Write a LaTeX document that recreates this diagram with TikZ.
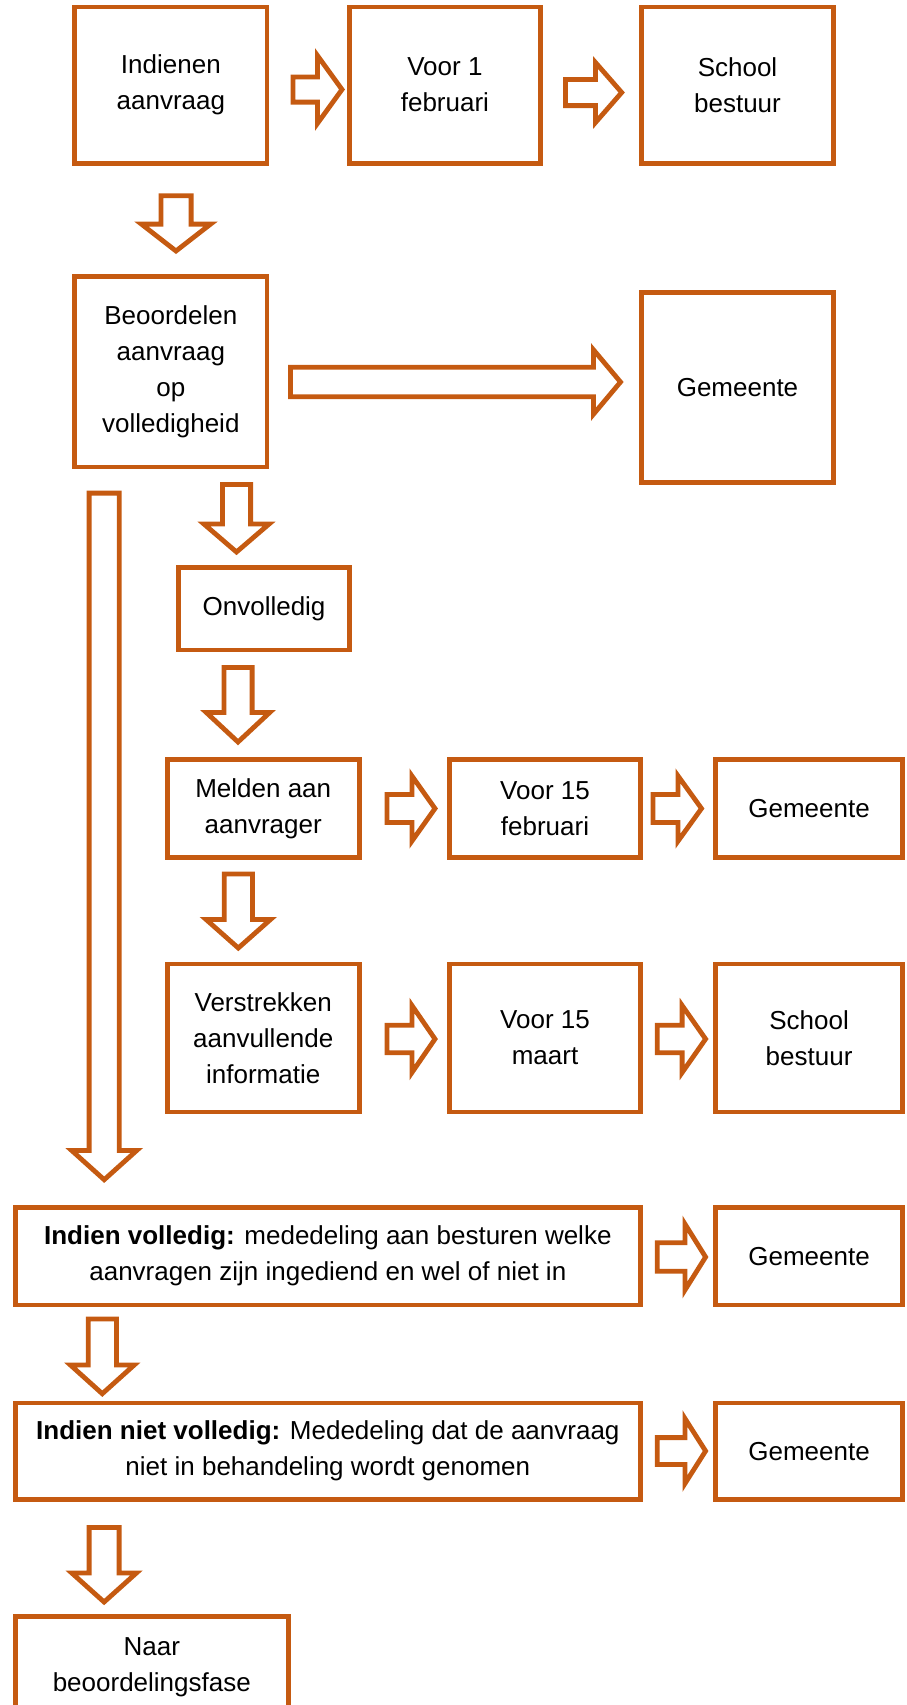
\documentclass[tikz,border=0pt]{standalone}
\usepackage{fontspec}
\setmainfont{Liberation Sans}
\definecolor{org}{HTML}{C55A11}
\tikzset{
  box/.style={draw=org, line width=4.8pt, fill=white, inner sep=0pt, align=center,
              font=\fontsize{26}{36}\selectfont},
  arr/.style={draw=org, line width=4.8pt, fill=white, line join=miter},
}
% right block arrow: tail x, centre y, head-base x, tip x, shaft half-width, head half-width
\newcommand\rarr[6]{\draw[arr] ({#1},{#2-#5}) -- ({#3},{#2-#5}) -- ({#3},{#2-#6}) -- ({#4},{#2}) -- ({#3},{#2+#6}) -- ({#3},{#2+#5}) -- ({#1},{#2+#5}) -- cycle;}
% down block arrow: centre x, top y, head-base y, tip y, shaft half-width, head half-width
\newcommand\darr[6]{\draw[arr] ({#1-#5},{#2}) -- ({#1+#5},{#2}) -- ({#1+#5},{#3}) -- ({#1+#6},{#3}) -- ({#1},{#4}) -- ({#1-#6},{#3}) -- ({#1-#5},{#3}) -- cycle;}
\begin{document}
\begin{tikzpicture}[x=1pt,y=-1pt]
\useasboundingbox (0,0) rectangle (907,1705);
\clip (0,0) rectangle (907,1705);
% row 1
\node[box, minimum width=192.3pt, minimum height=156.3pt] (A) at (170.85,85.15) {Indienen\\aanvraag};
\node[box, minimum width=190.8pt, minimum height=156.3pt] (B) at (444.9,85.15) {Voor 1\\februari};
\node[box, minimum width=192.2pt, minimum height=156.3pt] (C) at (737.5,85.15) {School\\bestuur};
% row 2
\node[box, minimum width=192.3pt, minimum height=190.6pt] (Beo) at (170.85,371.7) {Beoordelen\\aanvraag\\op\\volledigheid};
\node[box, minimum width=192.2pt, minimum height=190.2pt] (GemA) at (737.5,387.5) {Gemeente};
% onvolledig
\node[box, minimum width=170.5pt, minimum height=82.3pt] (Onv) at (264.05,608.85) {Onvolledig};
% melden row
\node[box, minimum width=191.7pt, minimum height=97.8pt] (Mel) at (263.25,808.6) {Melden aan\\aanvrager};
\node[box, minimum width=191.2pt, minimum height=97.8pt] (VF) at (545,808.6) {Voor 15\\februari};
\node[box, minimum width=186.9pt, minimum height=97.8pt] (GemB) at (809.05,808.6) {Gemeente};
% verstrekken row
\node[box, minimum width=191.7pt, minimum height=148pt] (Ver) at (263.25,1038) {Verstrekken\\aanvullende\\informatie};
\node[box, minimum width=191.2pt, minimum height=148pt] (VM) at (545,1038) {Voor 15\\maart};
\node[box, minimum width=186.9pt, minimum height=148pt] (SB) at (809.05,1038) {School\\bestuur};
% indien volledig
\node[box, minimum width=625.5pt, minimum height=97.6pt] (IV) at (327.85,1256.2) {\textbf{Indien volledig:} mededeling aan besturen welke\\aanvragen zijn ingediend en wel of niet in};
\node[box, minimum width=186.9pt, minimum height=97.6pt] (GemC) at (809.05,1256.2) {Gemeente};
% indien niet volledig
\node[box, minimum width=625.5pt, minimum height=96.3pt] (INV) at (327.85,1451.15) {\textbf{Indien niet volledig:} Mededeling dat de aanvraag\\niet in behandeling wordt genomen};
\node[box, minimum width=186.9pt, minimum height=96.3pt] (GemD) at (809.05,1451.15) {Gemeente};
% naar
\node[box, minimum width=273.4pt, minimum height=102pt] (Naar) at (151.8,1667.5) {Naar\\beoordelingsfase};
% right arrows
\rarr{293}{89.5}{317.4}{342}{12.6}{34}
\rarr{565.4}{92.5}{595.4}{621.7}{13.1}{30.1}
\rarr{290.4}{382}{593.4}{620.5}{14.75}{32.3}
\rarr{387}{808.5}{411.9}{435}{14}{32.6}
\rarr{653}{808.5}{678}{701.5}{14}{32.6}
\rarr{387}{1039}{411.9}{435}{13.8}{33.6}
\rarr{657.2}{1039}{682.1}{705.6}{13.8}{33.6}
\rarr{657.2}{1257}{684.9}{705.6}{14.3}{33.1}
\rarr{657.2}{1451}{684.9}{705.6}{13.4}{32.6}
% down arrows
\darr{176}{195.7}{224.1}{251}{15.1}{34.6}
\darr{236.5}{484.4}{524}{552}{14.1}{32.6}
\darr{238}{667.4}{712.4}{742}{14.1}{31.8}
\darr{238.3}{874}{919.4}{948}{14.1}{32.3}
\darr{104.2}{493.1}{1150.4}{1179.7}{15.1}{32.6}
\darr{102.3}{1319}{1365}{1393.7}{14.1}{31.9}
\darr{104.1}{1527.4}{1573}{1602}{15}{32.3}
\end{tikzpicture}
\end{document}
